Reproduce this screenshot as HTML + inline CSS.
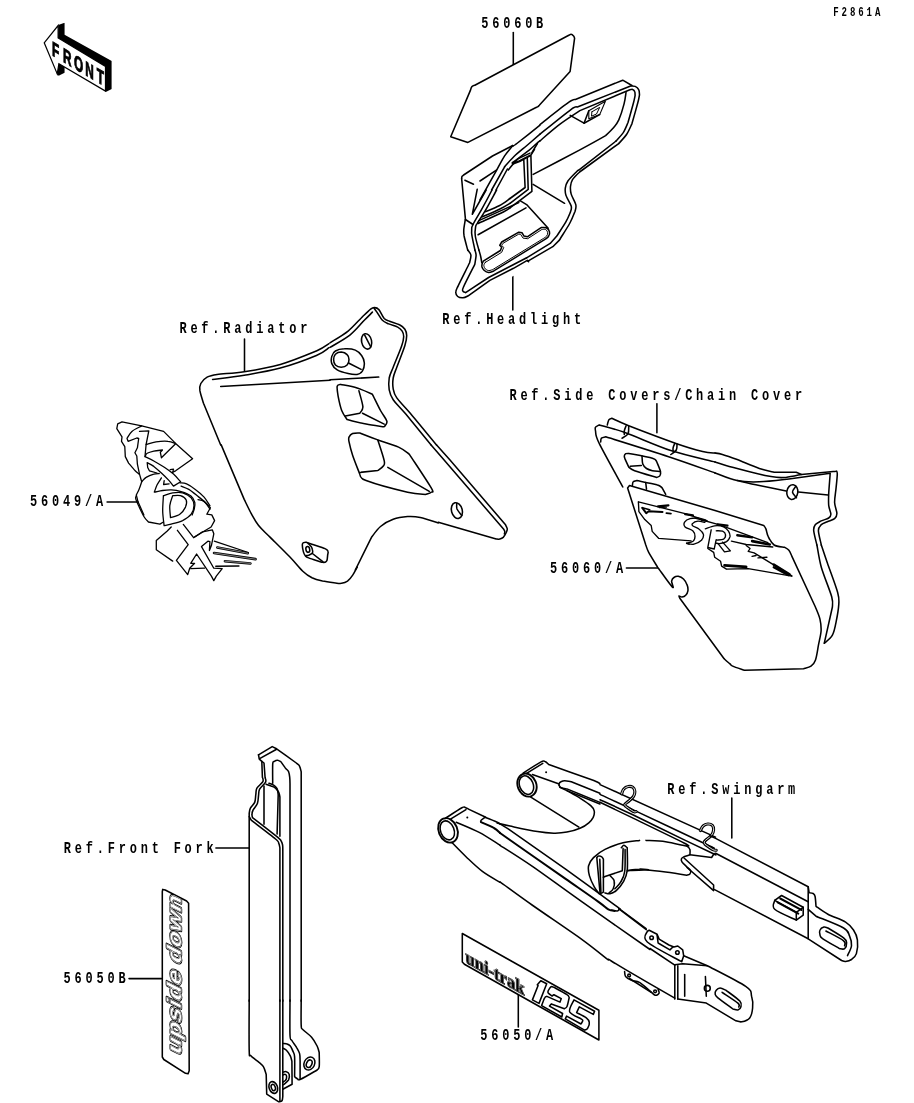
<!DOCTYPE html>
<html><head><meta charset="utf-8">
<style>
html,body{margin:0;padding:0;background:#fff;}
svg{display:block;}
.t{font-family:"Liberation Mono",monospace;font-weight:bold;fill:#000;}
.l{fill:none;stroke:#000;stroke-width:1.55;stroke-linecap:round;stroke-linejoin:round;}
.w{fill:#fff;stroke:#000;stroke-width:1.55;stroke-linecap:round;stroke-linejoin:round;}
.k{fill:#000;stroke:none;}
</style></head><body>
<svg width="914" height="1103" viewBox="0 0 914 1103">
<rect width="914" height="1103" fill="#fff"/>
<!--TEXT-->
<g class="t" id="labels" opacity="0.999">
<text transform="translate(833.2,15.8) scale(0.72,1)" font-size="12.6" letter-spacing="4.05">F2861A</text>
<text transform="translate(481.2,28.3) scale(0.72,1)" font-size="16.6" letter-spacing="5.3">56060B</text>
<text transform="translate(442.2,323.9) scale(0.72,1)" font-size="16.6" letter-spacing="5.3">Ref.Headlight</text>
<text transform="translate(179.4,333.4) scale(0.72,1)" font-size="16.6" letter-spacing="5.3">Ref.Radiator</text>
<text transform="translate(509.4,399.5) scale(0.72,1)" font-size="16.6" letter-spacing="5.3">Ref.Side Covers/Chain Cover</text>
<text transform="translate(30.0,506) scale(0.72,1)" font-size="16.6" letter-spacing="5.3">56049/A</text>
<text transform="translate(550.0,572.5) scale(0.72,1)" font-size="16.6" letter-spacing="5.3">56060/A</text>
<text transform="translate(667.3,793.8) scale(0.72,1)" font-size="16.6" letter-spacing="5.3">Ref.Swingarm</text>
<text transform="translate(63.8,852.6) scale(0.72,1)" font-size="16.6" letter-spacing="5.3">Ref.Front Fork</text>
<text transform="translate(63.5,983.3) scale(0.72,1)" font-size="16.6" letter-spacing="5.3">56050B</text>
<text transform="translate(480.2,1039.9) scale(0.72,1)" font-size="16.6" letter-spacing="5.3">56050/A</text>
</g>
<!--LEADERS-->
<g class="l" id="leaders">
<path d="M513.3,32.5V64.5"/>
<path d="M512.8,268V310"/>
<path d="M244.5,339V371"/>
<path d="M656.9,403.7V432.8"/>
<path d="M107.1,502H138.3"/>
<path d="M626.4,567.9H657.4"/>
<path d="M731.8,797.9V838"/>
<path d="M215.9,848H249.4"/>
<path d="M129,978.6H161.6"/>
<path d="M518.3,995.6V1027"/>
</g>
<g id="front" transform="translate(30,10) scale(0.10941)">
<path class="k" d="M258,138 L316,116 L316,226 L747,467 L747,722 L697,748 L686,740 L686,515 L256,258 Z"/>
<path class="k" d="M260,486 L316,520 L316,574 L262,600 L244,584 Z"/>
<path d="M130,300 L257,142 L257,256 L690,516 L690,741 L264,490 L249,584 Z" fill="#fff" stroke="#000" stroke-width="11" stroke-linejoin="miter"/>
<g transform="translate(201,414) skewY(30.5) scale(0.58,1)" style="font-family:'Liberation Sans',sans-serif;font-weight:bold" font-size="186" fill="#000" stroke="#000" stroke-width="9" opacity="0.999">
<text x="0" y="0">F</text><text x="172" y="0">R</text><text x="345" y="0">O</text><text x="525" y="0">N</text><text x="705" y="0">T</text>
</g>
</g>
<!--PLATE-->
<path class="w"  d="M475.3,85.0L568.8,35.3C569.2,35.1 570.5,34.1 571.3,34.3C572.1,34.4 573.2,35.6 573.8,36.2C574.3,36.9 574.4,37.9 574.6,38.2L570.1,71.4L539.3,105.2C539.1,105.4 538.7,106.1 538.1,106.5C537.6,106.9 536.4,107.3 536.0,107.5L467.9,142.4L450.7,136.7L470.4,90.4C470.6,89.8 471.2,87.5 472.0,86.6C472.8,85.7 474.7,85.3 475.3,85.0"/>
<path class="w" style="stroke:none" d="M624.1,80.1C625.7,80.9 630.9,83.2 633.3,84.9C635.7,86.6 637.5,88.7 638.6,90.5C639.7,92.2 639.6,94.5 639.8,95.3C638.2,101.6 632.4,125.8 630.2,133.1C627.9,140.3 627.1,137.7 626.5,138.6L577.2,172.3C576.2,173.3 572.8,176.1 571.2,178.3C569.6,180.5 568.4,183.1 567.6,185.5C566.8,187.9 566.4,190.4 566.4,192.8C566.4,195.2 566.6,197.7 567.6,200.0C568.5,202.3 570.5,204.7 571.9,206.7C573.3,208.7 575.3,210.1 576.0,212.0C576.7,213.9 576.0,217.0 576.0,218.0C574.6,221.4 570.2,233.5 567.6,238.5C565.0,243.5 561.6,246.5 560.4,248.1L531.5,266.2L527.9,268.6L488.1,289.0C484.5,291.6 470.9,301.7 466.5,304.7C462.1,307.7 463.3,307.5 461.7,307.1C460.1,306.7 457.7,304.1 456.8,302.3C456.0,300.5 456.4,297.3 456.4,296.3C458.3,291.8 465.6,275.8 467.7,269.8C469.8,263.8 469.5,264.2 468.9,260.2C468.3,256.1 464.9,250.7 464.1,245.7C463.3,240.7 463.9,234.1 464.1,230.1C464.3,226.1 465.1,223.0 465.3,221.6L461.2,178.3L464.1,174.7L517.0,143.4L560.4,106.1L570.0,100.8L624.1,80.1Z"/>
<path class="l"  d="M461.7,178.3C461.7,177.9 461.7,176.8 462.1,176.3C462.4,175.8 463.4,175.2 463.6,175.0L492.5,156.0L512.8,145.5"/>
<path class="l"  d="M461.6,178.3L465.4,218.9C465.2,220.6 464.0,226.5 463.8,229.4C463.6,232.2 463.5,232.5 464.1,236.0C464.8,239.4 467.1,247.7 467.7,250.0"/>
<path class="l"  d="M465.4,219.5L473.0,224.5"/>
<path class="l"  d="M464.9,180.2L473.5,184.2"/>
<path class="l"  d="M480.0,181.0L496.4,170.1"/>
<path class="l"  d="M540.0,125.2C536.3,128.1 522.0,139.5 517.5,143.0C513.0,146.4 513.9,145.5 513.1,146.0"/>
<path class="l"  d="M512.8,145.5C511.5,147.2 507.4,151.7 504.6,155.9C501.9,160.1 500.5,163.3 496.4,170.6C492.3,178.0 482.7,195.1 480.0,200.0"/>
<path class="l"  d="M477.2,189.3L472.3,214.3L486.1,190.0"/>
<path class="l"  d="M540.0,134.2C537.7,136.2 530.6,142.3 526.3,146.0C521.9,149.7 517.6,153.1 514.0,156.5C510.4,160.0 506.1,165.1 504.6,166.8"/>
<path class="l"  d="M504.6,166.8L491.6,190.0"/>
<path class="l"  d="M492.0,190.0C490.3,193.3 484.7,203.9 481.5,209.7C478.3,215.4 474.6,221.2 473.0,224.5C471.3,227.7 471.8,227.5 471.7,229.4C471.5,231.3 471.4,232.5 472.0,236.0C472.5,239.4 474.5,247.7 474.9,250.0"/>
<path class="l"  d="M540.0,140.8C539.5,141.2 538.6,141.8 536.8,143.4C534.9,145.0 532.1,147.8 528.9,150.4C525.7,153.0 520.9,155.9 517.5,159.1C514.1,162.4 509.8,168.2 508.3,170.0"/>
<path class="l"  d="M507.4,169.0L496.0,190.0"/>
<path class="l"  d="M496.6,190.0C494.7,193.4 488.6,204.9 485.4,210.4C482.3,215.8 479.2,220.1 477.6,222.8C475.9,225.6 476.0,224.6 475.6,226.8C475.2,228.9 474.7,232.1 475.3,236.0C475.8,239.8 478.3,247.7 478.9,250.0"/>
<path class="l"  d="M540.0,124.5C544.8,120.8 563.0,106.3 568.9,102.2C574.8,98.0 574.4,100.0 575.4,99.5L622.7,80.2L631.9,85.5"/>
<path class="l"  d="M540.0,134.2C545.1,130.1 564.6,114.2 570.9,109.6C577.1,105.1 576.3,107.5 577.4,107.0L630.6,86.0C631.4,86.1 633.8,85.8 635.2,86.4C636.5,87.0 638.0,88.3 638.7,89.7C639.5,91.1 639.4,94.1 639.5,94.9C639.2,96.3 639.1,98.0 637.8,102.8C636.5,107.6 632.9,120.3 631.9,123.8C631.0,125.6 628.8,131.1 626.7,134.3C624.5,137.6 620.1,142.0 618.8,143.5"/>
<path class="l"  d="M540.0,140.8C543.3,138.0 553.3,129.1 560.0,124.1C566.6,119.1 576.6,112.8 579.9,110.6L629.3,90.0C629.8,89.9 631.6,89.1 632.6,89.4C633.5,89.7 634.4,90.6 634.8,91.7C635.2,92.7 635.0,94.9 635.1,95.6C634.8,96.8 634.7,98.3 633.5,102.8C632.3,107.3 628.9,119.2 628.0,122.5C627.2,124.2 625.3,129.3 623.4,132.4C621.4,135.4 617.4,139.5 616.1,140.9"/>
<path class="l"  d="M626.0,92.6C625.7,94.5 625.2,99.6 624.0,104.1C622.8,108.7 620.5,116.0 618.8,119.9C617.0,123.8 615.7,125.1 613.5,127.8C611.3,130.4 607.0,134.3 605.6,135.6C601.3,138.1 591.5,143.6 579.4,150.1C567.3,156.5 540.9,170.3 533.2,174.4"/>
<path class="l"  d="M570.2,115.3L584.0,123.2L599.7,114.6"/>
<path class="l"  d="M584.0,123.2L588.8,110.7"/>
<path class="l" style="stroke-width:1.1" d="M588.8,110.7L599.7,104.4L605.4,101.2L599.7,114.6L588.8,118.8L588.8,110.7"/>
<path class="l" style="stroke-width:1" d="M591.9,111.8L599.7,107.4L596.5,114.0L591.5,116.2L591.9,111.8"/>
<path class="l"  d="M618.7,143.6L581.7,170.5C581.3,170.8 580.6,170.9 579.1,172.5C577.5,174.0 573.9,177.4 572.5,179.7C571.1,182.0 570.8,183.9 570.5,186.3C570.3,188.7 570.3,191.1 571.2,194.1C572.1,197.2 575.1,201.8 575.8,204.6C576.5,207.5 575.3,210.1 575.1,211.2C574.3,213.2 572.5,218.2 569.9,223.0C567.3,227.8 561.1,237.2 559.4,240.1L552.8,246.7L527.9,261.1"/>
<path class="l"  d="M616.1,141.0L579.1,169.8C578.6,170.2 578.3,170.0 576.5,171.8C574.6,173.7 569.8,178.3 567.9,181.0C566.1,183.7 565.6,185.8 565.3,188.2C565.0,190.6 565.0,192.5 566.0,195.4C566.9,198.4 570.4,203.2 571.2,206.0C572.0,208.7 570.7,210.9 570.5,211.9C569.8,213.5 568.2,217.7 566.0,221.7C563.7,225.8 558.3,233.7 556.8,236.1L550.2,243.4L526.6,257.8"/>
<path class="l"  d="M533.1,184.3L564.6,203.3"/>
<path class="l"  d="M520.0,200.7L526.6,204.6L548.2,228.3"/>
<path class="l"  d="M485.4,211.7C487.7,210.7 495.1,207.9 499.2,205.8C503.3,203.6 508.2,199.7 510.0,198.5"/>
<path class="l"  d="M482.2,216.9C485.1,215.6 495.3,211.3 499.9,209.0C504.5,206.8 508.3,204.3 510.0,203.3"/>
<path class="l"  d="M478.2,223.5C482.5,221.5 498.5,214.3 503.8,211.7C509.1,209.1 509.0,208.5 510.0,207.9"/>
<path class="l"  d="M510.0,198.5L525.1,187.5L523.8,160.2"/>
<path class="l"  d="M510.0,203.3L528.2,189.4L527.3,158.6"/>
<path class="l"  d="M510.0,207.9L531.9,191.4L530.9,156.0"/>
<path class="l"  d="M512.3,162.7L518.3,158.6L530.0,153.1"/>
<path class="l"  d="M531.9,152.7L537.4,143.5"/>
<path class="l" style="stroke-width:2.2" d="M512.8,163.6L519.4,161.3L530.0,155.6"/>
<path class="l"  d="M530.6,155.7L534.5,149.4"/>
<path class="l"  d="M467.7,250.0C468.2,250.9 470.5,253.0 470.9,255.1C471.2,257.3 469.8,261.7 469.5,263.0C467.7,266.7 460.7,280.5 458.4,285.3C456.1,290.2 455.9,290.0 455.8,291.9C455.6,293.8 456.5,295.5 457.7,296.5C458.9,297.5 461.2,297.9 463.0,297.8C464.7,297.7 467.4,296.2 468.2,295.8L489.9,280.4L513.5,268.3L527.3,260.4L528.6,261.7"/>
<path class="l"  d="M474.9,250.0C475.1,250.9 476.1,252.8 476.1,255.1C476.1,257.5 475.0,262.8 474.8,264.3C472.9,268.1 465.6,282.2 463.6,286.7C461.7,291.1 462.6,290.3 463.0,291.2C463.3,292.2 465.2,292.3 465.6,292.6L488.6,277.5L526.7,257.8"/>
<path class="l"  d="M478.9,250.0C479.2,251.1 480.2,254.3 480.7,256.5C481.2,258.6 481.6,261.7 481.8,262.8"/>
<path class="l"  d="M483.3,261.1L500.4,250.5L501.7,247.3L499.7,245.3L501.7,242.0L518.8,232.2L522.1,232.8L524.0,236.1L527.3,236.8L541.1,227.6C542.0,227.6 544.9,227.1 546.3,227.8C547.8,228.6 549.3,230.7 549.6,232.2C550.0,233.7 549.1,235.6 548.3,236.8C547.5,238.0 545.6,238.9 545.0,239.4L493.8,270.9C493.0,271.2 490.2,272.6 488.6,272.5C486.9,272.4 485.1,271.2 484.0,270.2C482.9,269.3 482.3,267.9 482.0,267.0C481.7,266.0 481.8,265.3 482.0,264.3C482.2,263.3 483.1,261.6 483.3,261.1Z"/>
<path class="l" style="stroke-width:1" d="M485.3,262.4L501.7,252.3L503.7,247.5L501.7,245.3L503.0,243.3L518.8,234.1L520.7,234.4L523.0,238.1L527.7,238.7L541.8,229.5C542.4,229.5 544.7,229.0 545.7,229.5C546.7,230.1 547.5,231.7 547.7,232.8C547.8,233.9 547.3,235.2 546.6,236.1C546.0,237.0 544.2,238.0 543.7,238.3L493.2,269.3C492.5,269.5 490.2,270.7 488.8,270.6C487.5,270.6 486.1,269.6 485.3,268.9C484.5,268.2 484.2,267.0 484.0,266.3C483.8,265.6 483.8,265.3 484.0,264.6C484.2,263.9 485.1,262.7 485.3,262.4Z"/>
<path class="l"  d="M478.1,234.8L526.0,207.9"/>
<path class="l"  d="M479.4,220.4L518.8,202.6"/>
<path class="l"  d="M329.0,343.7C326.9,344.9 324.5,347.5 316.4,351.0C308.2,354.4 292.3,361.0 280.3,364.5C268.2,368.0 254.7,370.1 244.2,371.7C233.6,373.4 223.2,373.5 217.1,374.4C210.9,375.3 209.9,375.6 207.1,377.1C204.4,378.6 202.0,381.2 200.8,383.5C199.6,385.7 199.5,387.4 199.9,390.7C200.4,394.0 202.9,401.2 203.5,403.3L220.7,445.0"/>
<path class="l"  d="M330.0,342.8C333.0,340.9 342.6,335.5 348.1,331.1C353.5,326.7 358.7,320.3 362.5,316.7C366.3,313.0 368.7,310.6 370.6,309.1C372.6,307.6 372.9,307.6 374.2,307.6C375.6,307.7 377.1,307.6 378.7,309.4C380.4,311.2 382.4,316.5 384.2,318.5C386.0,320.4 387.0,320.1 389.6,321.2C392.1,322.2 396.9,323.4 399.5,324.8C402.1,326.1 403.7,327.5 404.9,329.3C406.1,331.1 406.7,332.9 406.7,335.6C406.7,338.3 406.6,340.3 404.9,345.5C403.3,350.8 398.8,361.8 396.8,367.2C394.8,372.6 393.8,374.4 393.2,378.0C392.6,381.7 392.6,385.6 393.2,388.9C393.8,392.2 394.1,394.0 396.8,397.9C399.5,401.8 402.8,404.5 409.4,412.3C416.1,420.2 432.0,439.6 436.5,445.0"/>
<path class="l"  d="M329.0,347.7C326.9,349.0 324.5,352.1 316.4,355.5C308.2,358.9 292.3,364.8 280.3,368.1C268.2,371.4 255.4,373.4 244.2,375.3C232.9,377.2 217.8,378.8 212.6,379.5"/>
<path class="l"  d="M330.0,347.4C333.3,345.3 344.1,339.6 349.9,335.1C355.6,330.6 360.5,324.1 364.3,320.3C368.1,316.5 371.1,313.5 372.4,312.1"/>
<path class="l"  d="M374.2,308.5C374.7,309.1 375.6,310.2 376.9,312.1C378.3,314.1 380.4,318.3 382.4,320.3C384.3,322.2 386.1,322.7 388.7,323.9C391.2,325.0 395.4,325.9 397.7,327.1C400.0,328.3 401.2,329.5 402.2,331.1C403.2,332.7 403.7,334.1 403.7,336.5C403.6,338.9 403.6,340.4 401.8,345.5C400.1,350.7 395.3,361.8 393.2,367.2C391.1,372.6 389.9,374.3 389.2,378.0C388.6,381.8 388.6,386.2 389.2,389.8C389.9,393.4 390.4,395.6 393.2,399.7C396.0,403.8 399.5,406.6 405.8,414.1C412.1,421.7 426.9,439.9 431.1,445.0"/>
<path class="l"  d="M220.7,386.5L330.1,380.2"/>
<path class="l"  d="M330.0,379.8L378.7,377.1"/>
<ellipse class="l" cx="366.6" cy="341.4" rx="5" ry="7.8" transform="rotate(-12 366.6 341.4)"/>
<path class="l"  d="M364.7,335.1L370.8,347.0"/>
<path class="l"  d="M331.8,356.4C332.4,354.3 333.3,352.2 335.4,351.0C337.5,349.7 341.1,348.9 344.4,348.8C347.8,348.6 352.4,348.9 355.3,350.1C358.1,351.2 360.1,353.4 361.6,355.5C363.1,357.6 364.1,360.1 364.3,362.7C364.5,365.3 363.7,368.9 362.5,370.8C361.3,372.8 359.5,374.0 357.1,374.4C354.7,374.9 351.4,374.3 348.1,373.5C344.7,372.8 339.9,371.6 337.2,369.9C334.5,368.3 332.7,365.9 331.8,363.6C330.9,361.3 331.2,358.5 331.8,356.4Z"/>
<path class="l"  d="M333.6,359.6C333.6,357.8 334.2,355.5 335.4,354.2C336.7,352.9 339.2,352.0 341.2,352.0C343.1,352.1 345.9,353.3 347.1,354.6C348.4,355.8 349.0,357.9 349.0,359.6C349.0,361.4 348.4,363.8 347.1,365.0C345.9,366.3 343.1,367.2 341.2,367.2C339.2,367.2 336.7,366.3 335.4,365.0C334.2,363.8 333.6,361.4 333.6,359.6Z"/>
<path class="l"  d="M349.0,363.2L361.1,369.4"/>
<path class="l"  d="M340.8,384.4C343.5,385.0 351.8,386.3 357.1,388.0C362.3,389.6 369.9,393.2 372.4,394.3C373.8,397.0 378.1,406.0 380.5,410.5C383.0,415.0 386.3,418.7 386.9,421.4C387.5,424.1 384.6,425.9 384.2,426.8C381.1,426.3 372.3,425.3 366.1,424.1C359.9,422.9 350.3,420.3 347.1,419.6C346.2,418.1 343.2,414.4 341.7,410.5C340.2,406.6 338.9,400.2 338.1,396.1C337.4,392.0 336.8,388.1 337.2,386.2C337.7,384.2 340.2,384.7 340.8,384.4Z"/>
<path class="l"  d="M358.9,390.7C359.5,393.4 362.7,403.2 362.9,406.9C363.0,410.7 360.3,412.2 359.8,413.2L345.3,416.0"/>
<path class="l"  d="M362.5,413.2L384.2,424.1"/>
<path class="l"  d="M359.8,433.0C362.8,434.1 371.4,437.5 377.8,439.9C384.3,442.2 393.3,444.7 398.6,447.1C403.9,449.5 407.6,453.1 409.4,454.3C413.0,459.9 427.5,481.4 431.1,487.7C434.7,494.0 432.0,491.1 431.1,492.2C430.2,493.3 426.6,494.0 425.7,494.4C422.7,494.0 417.6,494.5 407.6,492.2C397.7,489.9 374.1,483.5 366.1,480.5C358.1,477.5 360.8,475.2 359.8,474.2C358.6,471.0 354.4,460.6 352.6,455.2C350.8,449.8 349.6,444.7 349.0,441.7C348.4,438.7 348.4,438.5 349.0,437.1C349.6,435.8 350.8,434.2 352.6,433.5C354.4,432.8 358.6,433.1 359.8,433.0Z"/>
<path class="l"  d="M377.8,439.9C378.9,443.3 383.3,456.3 384.2,460.6C385.1,465.0 384.3,464.4 383.3,466.0C382.2,467.7 378.7,469.8 377.8,470.5L359.8,472.4"/>
<path class="l"  d="M387.8,467.3L429.3,491.3"/>
<path class="l"  d="M436.6,445.0L450.0,460.0L505.3,524.4C505.6,525.1 507.1,527.5 507.3,528.9C507.4,530.3 506.8,531.2 506.2,532.5C505.5,533.9 504.5,536.0 503.5,537.1C502.4,538.2 501.0,538.8 499.8,539.1C498.6,539.4 496.8,538.9 496.2,538.9L438.3,522.2"/>
<path class="l"  d="M431.1,445.0L444.1,460.0L503.5,528.9C503.7,529.4 504.7,530.8 504.8,531.6C505.0,532.5 504.4,533.5 504.4,533.9"/>
<ellipse class="l" cx="456.9" cy="510.6" rx="5.4" ry="8" transform="rotate(-15 456.9 510.6)"/>
<path class="l"  d="M456.8,503.3C456.8,504.3 456.2,506.9 457.0,509.0C457.9,511.0 461.0,514.4 461.8,515.5"/>
<path class="l"  d="M438.3,522.9C435.3,522.0 425.4,518.5 420.3,517.5C415.1,516.4 412.1,516.3 407.6,516.6C403.1,516.9 397.7,517.6 393.2,519.3C388.7,520.9 384.2,523.5 380.5,526.5C376.9,529.5 373.0,535.5 371.5,537.3L355.3,570.0"/>
<path class="l" d="M221.2,444.9L244.2,499.4C245.4,501.8 249.0,509.5 251.4,513.9C253.8,518.2 255.5,521.7 258.6,525.6C261.7,529.5 264.8,531.9 270.0,537.1C275.2,542.3 284.2,551.1 289.7,556.8C295.2,562.5 299.1,567.7 302.8,571.2C306.5,574.7 308.7,576.1 312.0,577.8C315.3,579.4 318.6,580.2 322.5,581.1C326.5,581.9 332.5,582.6 335.6,583.0C338.8,583.4 339.6,583.6 341.6,583.3C343.5,583.0 345.6,582.4 347.5,581.1C349.3,579.7 351.1,577.5 352.7,575.1C354.4,572.8 356.5,568.4 357.3,567.0"/>
<path class="l"  d="M306.4,542.3C307.3,542.6 308.8,543.2 311.9,544.2C315.0,545.3 322.3,547.4 325.0,548.6C327.7,549.8 327.6,550.3 328.0,551.3C328.5,552.3 327.8,554.1 327.7,554.6C327.6,555.6 327.4,559.4 326.9,560.6C326.5,561.9 325.9,562.0 325.0,562.3C324.1,562.5 322.3,562.3 321.7,562.3C319.5,561.5 311.3,559.0 308.6,557.9C305.9,556.8 306.2,556.7 305.3,555.7C304.5,554.7 303.9,553.7 303.4,551.9C302.9,550.1 302.3,546.3 302.3,544.8C302.4,543.2 303.0,543.0 303.7,542.6C304.4,542.2 306.0,542.4 306.4,542.3Z"/>
<path class="l"  d="M308.1,543.4C308.6,543.9 310.3,545.4 311.1,546.4C311.8,547.5 312.2,548.6 312.4,549.7C312.7,550.8 313.1,552.1 312.4,553.0C311.8,553.9 309.7,554.7 308.6,555.2C307.5,555.6 306.3,555.6 305.9,555.7"/>
<path class="l"  d="M312.4,553.5L322.8,561.7"/>
<ellipse class="l" cx="307.8" cy="549.4" rx="1.9" ry="3" transform="rotate(-10 307.8 549.4)"/>
<path class="l" style="stroke-width:1.3" d="M139.0,474.1C138.4,473.5 136.9,472.6 135.2,470.8C133.4,469.0 129.7,464.4 128.6,463.1L125.3,456.6L124.8,446.7L121.5,441.3L122.0,436.9L116.8,428.7L117.7,423.8L122.0,421.8L141.7,425.9L163.6,431.4L175.6,443.4L192.6,458.8L175.6,470.8L172.4,472.4"/>
<path class="l" style="stroke-width:1.3" d="M141.7,425.9C140.1,426.9 134.3,429.3 131.9,431.4C129.4,433.5 127.8,437.3 127.0,438.5L128.1,441.3L136.8,438.0L138.7,438.5L137.4,447.8L134.9,452.7L136.8,456.0L137.4,464.2L139.5,474.1L141.7,481.7"/>
<path class="l" style="stroke-width:1.3" d="M139.5,431.4L148.8,430.9L146.1,444.5C147.7,444.1 152.3,442.4 156.0,441.8C159.6,441.3 164.7,440.9 168.0,441.3C171.3,441.6 174.4,443.3 175.6,443.7L161.4,457.7L160.3,452.2L162.5,450.0C161.1,450.2 156.3,450.6 153.8,451.1C151.2,451.7 148.7,452.4 147.2,453.3C145.7,454.2 145.4,456.0 145.0,456.6C146.5,457.3 150.5,459.1 153.8,461.0C157.0,462.8 161.4,465.3 164.7,467.5C168.0,469.7 170.8,471.7 173.5,474.1C176.1,476.5 179.4,480.5 180.6,481.7L173.5,486.1C172.7,485.2 171.1,482.8 169.1,480.6C167.1,478.5 164.0,475.4 161.4,473.0C158.9,470.6 156.1,468.2 153.8,466.4C151.4,464.7 148.3,463.2 147.2,462.6L147.7,467.5L149.4,470.8L157.0,473.0"/>
<path class="l" style="stroke-width:1.3" d="M146.1,444.5L145.0,456.6"/>
<path class="l" style="stroke-width:1.3" d="M170.2,469.7L173.5,469.2L172.9,471.9"/>
<path class="l" style="stroke-width:1.3" d="M141.7,481.7C142.5,481.0 144.1,478.6 146.1,477.4C148.1,476.1 151.6,474.7 153.8,474.1C156.0,473.4 158.3,473.6 159.2,473.5"/>
<path class="l" style="stroke-width:1.3" d="M141.7,481.7C141.3,483.0 139.9,487.2 139.0,489.4C138.1,491.6 136.7,494.0 136.3,494.9L137.9,501.4L143.9,515.0"/>
<path class="l" style="stroke-width:1.3" d="M161.4,477.9C160.7,479.1 158.2,482.7 157.0,485.0C155.9,487.4 154.8,490.9 154.3,492.1C155.7,491.9 159.7,490.9 162.5,490.5C165.3,490.1 168.2,489.8 171.3,489.9C174.4,490.1 177.8,490.6 181.1,491.6C184.4,492.6 188.7,494.1 191.0,496.0C193.2,497.8 194.2,500.3 194.8,502.5C195.3,504.7 194.7,507.0 194.2,509.1C193.8,511.2 192.4,514.0 192.1,515.0"/>
<path class="l" style="stroke-width:1.3" d="M164.2,480.6L163.6,484.5L169.1,483.9"/>
<path class="l" style="stroke-width:1.3" d="M181.1,486.1C182.4,486.7 186.0,487.8 188.8,489.4C191.5,491.0 194.8,493.8 197.5,496.0C200.3,498.2 203.1,500.3 205.2,502.5C207.3,504.7 209.2,508.0 210.0,509.1"/>
<path class="l" style="stroke-width:1.3" d="M180.0,482.8C181.1,483.0 184.0,482.8 186.6,483.9C189.1,485.0 192.4,487.2 195.3,489.4C198.3,491.6 201.6,494.3 204.1,497.1C206.5,499.8 209.0,504.4 210.0,505.8"/>
<path class="l" style="stroke-width:1.3" d="M136.4,495.7C136.3,496.2 135.3,496.9 135.7,498.5C136.0,500.2 137.1,502.6 138.5,505.6C140.0,508.7 142.6,514.3 144.2,517.0C145.9,519.8 147.8,521.2 148.5,522.0L159.9,524.1L163.4,522.0"/>
<path class="l" style="stroke-width:1.3" d="M163.4,495.7C165.0,495.2 169.5,493.3 172.7,492.8C175.9,492.4 179.5,492.0 182.6,492.8C185.7,493.7 189.3,495.7 191.2,497.8C193.1,500.0 194.0,502.9 194.0,505.6C194.0,508.4 193.1,511.7 191.2,514.2C189.3,516.7 185.9,518.9 182.6,520.6C179.3,522.2 174.3,523.3 171.2,524.1C168.2,525.0 165.3,525.3 164.1,525.6C163.9,523.2 162.8,516.3 162.7,511.3C162.6,506.4 163.3,498.3 163.4,495.7"/>
<path class="l" style="stroke-width:1.3" d="M172.7,495.7C174.0,495.7 178.2,495.0 180.5,495.7C182.7,496.4 185.4,498.1 186.2,500.0C187.0,501.9 186.5,504.7 185.5,507.1C184.4,509.4 182.3,512.4 179.8,514.2C177.3,516.0 172.1,517.1 170.5,517.7C170.4,515.7 169.5,509.3 169.8,505.6C170.2,502.0 172.2,497.3 172.7,495.7"/>
<path class="l" style="stroke-width:1.3" d="M198.0,499.7C199.0,500.0 201.9,500.0 204.0,501.4C206.0,502.7 209.3,506.7 210.4,507.8L206.8,514.2L211.8,514.9L214.6,520.6L211.1,527.0L204.0,531.2L194.7,536.9"/>
<path class="l" style="stroke-width:1.3" d="M183.3,524.4L193.6,537.7L202.5,531.8L212.3,529.8L213.8,533.8L211.4,545.6L209.4,550.5L209.9,541.7L207.9,541.2L201.5,546.6L213.8,568.2L222.2,568.7L216.3,576.1L213.8,580.6L211.4,576.1L196.6,554.0L190.7,563.3L194.6,563.3L189.7,568.2L187.7,574.6L176.4,560.4L188.2,544.6L177.4,530.3"/>
<path class="l" style="stroke-width:1.3" d="M171.2,527.0L167.0,531.2L156.3,540.5L156.3,549.7L172.7,561.1"/>
<path class="l" style="stroke-width:1.3" d="M190.7,568.7L204.5,568.2"/>
<path class="l" style="stroke-width:1.3" d="M214.3,541.2L248.3,552.5"/>
<path class="l" style="stroke-width:2.5" d="M217.3,547.4L247.8,553.3"/>
<path class="l" style="stroke:#fff;stroke-width:0.5" d="M217.3,547.4L247.8,553.3"/>
<path class="l" style="stroke-width:2.7" d="M214.1,553.0L255.5,559.2"/>
<path class="l" style="stroke:#fff;stroke-width:0.5" d="M214.1,553.0L255.5,559.2"/>
<path class="l" style="stroke-width:2.5" d="M224.9,561.2L250.5,563.4"/>
<path class="l" style="stroke:#fff;stroke-width:0.5" d="M224.9,561.2L250.5,563.4"/>
<path class="l" style="stroke-width:1.5" d="M215.8,566.3L238.9,565.9"/>
<path class="l"  d="M607.3,424.9C607.6,424.1 608.1,420.9 608.8,419.8C609.5,418.7 611.3,418.5 611.8,418.3C614.6,419.5 618.0,421.5 628.7,425.7C639.5,429.9 663.7,439.1 676.0,443.4C688.3,447.7 696.1,449.9 702.6,451.5C709.1,453.1 712.9,452.8 715.0,453.0"/>
<path class="l"  d="M715.0,453.0C716.2,453.2 718.7,453.4 722.4,454.5C726.1,455.6 731.0,457.3 737.2,459.6C743.3,462.0 753.2,466.4 759.3,468.5C765.5,470.6 771.6,471.6 774.1,472.2L796.2,472.2L801.4,474.4"/>
<path class="l"  d="M622.8,487.0C618.9,479.7 603.8,452.8 599.2,443.4C594.6,434.0 596.1,433.6 595.5,430.8C594.9,428.1 594.9,428.1 595.5,427.2C596.1,426.2 598.6,425.3 599.2,424.9C603.4,426.2 612.2,428.0 624.3,432.3C636.4,436.6 656.5,445.9 671.6,450.8C686.7,455.7 707.8,460.0 715.0,461.9"/>
<path class="l"  d="M715.0,461.9C718.7,463.0 727.8,466.1 737.2,468.5C746.5,471.0 763.0,475.2 771.1,476.6C779.3,478.1 780.9,477.7 785.9,477.4C790.9,477.0 798.8,474.9 801.4,474.4C806.7,473.9 827.4,472.0 833.2,471.5C838.9,470.9 835.6,471.2 836.1,471.2C836.3,471.6 837.3,470.9 837.3,473.7C837.3,476.4 836.6,482.9 836.1,487.7C835.7,492.5 834.5,498.2 834.6,502.5C834.8,506.8 836.9,510.9 836.9,513.6C836.9,516.3 836.2,517.4 834.6,518.7C833.0,520.1 829.5,520.7 827.3,521.7C825.0,522.7 822.8,523.2 821.3,524.6C819.9,526.1 818.4,527.1 818.4,530.5C818.4,533.9 820.9,542.6 821.3,545.0"/>
<path class="l"  d="M600.7,441.9C600.8,441.3 600.6,439.1 601.4,438.2C602.3,437.4 605.1,437.0 605.8,436.8C616.3,440.1 650.4,450.7 668.6,456.7C686.8,462.7 707.3,470.2 715.0,472.9"/>
<path class="l"  d="M715.0,472.9C718.7,474.2 729.8,479.1 737.2,480.6C744.5,482.1 750.7,482.1 759.3,481.8C767.9,481.5 777.0,480.3 788.9,478.9C800.7,477.4 823.3,474.2 830.2,473.2C830.0,476.6 829.0,488.3 828.7,493.6C828.5,499.0 828.4,502.0 828.7,505.4C829.1,508.9 830.9,512.2 830.9,514.3C830.9,516.4 830.3,516.9 828.7,518.0C827.1,519.1 823.6,519.8 821.3,520.9C819.1,522.1 816.7,523.0 815.4,524.6C814.2,526.2 813.4,527.1 813.7,530.5C813.9,533.9 816.4,542.6 816.9,545.0"/>
<path class="l"  d="M626.1,425.7C625.8,426.5 624.6,429.4 624.3,430.8C624.0,432.3 624.3,433.9 624.3,434.5"/>
<path class="l"  d="M628.7,426.4C628.6,427.6 629.1,431.8 628.0,433.8C626.9,435.8 623.1,437.5 622.1,438.2"/>
<path class="l"  d="M674.8,443.4C674.5,444.1 673.3,446.6 673.1,447.8C672.8,449.1 673.1,450.5 673.1,451.1"/>
<path class="l"  d="M677.0,444.1C676.9,445.1 677.3,448.3 676.3,450.0C675.3,451.8 671.7,453.7 670.8,454.5"/>
<path class="l"  d="M737.2,480.6C740.8,481.4 751.1,483.8 759.3,485.5C767.5,487.2 781.7,490.1 786.2,491.0"/>
<path class="l"  d="M798.5,492.1L828.0,495.1"/>
<ellipse class="l" cx="792.3" cy="492.1" rx="5.5" ry="7.4" transform="rotate(8 792.3 492.1)"/>
<path class="l"  d="M795.9,486.2C795.4,487.2 792.4,490.2 792.5,492.1C792.6,494.1 795.9,496.8 796.5,497.8"/>
<path class="l"  d="M628.7,453.4C632.7,454.2 647.7,456.8 652.4,458.2C657.1,459.6 656.1,461.2 656.8,461.9C657.4,463.5 660.0,469.1 660.5,471.5C661.0,473.8 660.4,474.9 659.8,475.9C659.1,476.9 657.3,477.1 656.8,477.4C653.1,476.3 639.3,472.5 634.6,470.7C630.0,469.0 629.7,467.7 628.7,467.0C628.1,465.7 625.8,460.8 625.0,458.9C624.3,457.1 624.2,456.8 624.3,456.0C624.4,455.1 625.0,454.2 625.8,453.7C626.5,453.3 628.2,453.5 628.7,453.4Z"/>
<path class="l"  d="M642.0,456.0C642.2,457.3 642.0,462.0 642.8,464.1C643.5,466.2 644.9,467.4 646.5,468.5C648.1,469.6 650.2,470.2 652.4,470.7C654.6,471.2 658.5,471.3 659.8,471.5"/>
<path class="l"  d="M630.2,466.3L641.3,465.6"/>
<path class="l"  d="M632.4,485.5C632.6,484.9 632.4,482.6 633.2,481.8C633.9,481.0 636.2,480.8 636.9,480.6C640.2,481.3 652.6,483.6 656.8,484.8C661.0,485.9 661.1,487.2 662.0,487.7L665.7,494.4"/>
<path class="l"  d="M645.7,482.5L646.5,489.2"/>
<path class="l"  d="M821.3,545.0C822.3,548.0 824.5,554.8 827.3,562.7C830.0,570.6 835.7,585.4 837.6,592.3C839.5,599.2 839.0,599.2 838.8,604.1C838.5,609.0 837.2,616.6 836.1,621.8C835.1,627.0 834.4,631.5 832.4,635.1C830.5,638.7 825.7,641.9 824.3,643.2"/>
<path class="l"  d="M816.9,545.0C817.7,548.7 818.9,558.5 821.3,567.2C823.8,575.8 829.8,590.0 831.7,596.7C833.5,603.3 832.3,605.3 832.4,607.0L824.3,643.2"/>
<path class="w" d="M627.6,488.0L629.5,485.6L715.0,510.6L763.7,525.4C764.1,526.0 765.2,527.2 766.0,529.1C766.7,530.9 766.8,533.8 768.2,536.5C769.5,539.1 771.4,543.2 774.1,545.0C776.8,546.8 782.7,546.8 784.4,547.2C785.2,547.7 787.6,548.7 788.9,550.2C790.1,551.6 791.3,555.1 791.8,556.1L815.4,607.0C816.2,609.0 818.9,614.9 819.9,618.9C820.8,622.8 821.3,626.2 821.1,630.7C820.8,635.1 819.3,640.5 818.4,645.4C817.5,650.4 816.7,656.8 815.4,660.2C814.2,663.7 813.0,664.7 811.0,666.1C809.0,667.5 804.9,668.3 803.6,668.8L744.5,670.3C742.6,669.6 735.2,667.2 732.7,666.1C730.3,665.1 731.4,665.1 730.0,663.9C728.5,662.7 725.1,659.6 724.1,658.7L679.8,598.2C679.6,597.8 678.7,596.2 679.0,596.0C679.4,595.8 680.9,597.1 682.0,597.0C683.1,596.9 684.7,596.3 685.7,595.2C686.7,594.2 687.6,592.5 687.9,590.8C688.1,589.1 687.9,586.8 687.1,584.9C686.4,582.9 684.9,580.4 683.5,579.0C682.0,577.5 679.9,576.6 678.3,576.3C676.7,576.1 675.0,576.7 673.9,577.5C672.7,578.3 671.9,579.6 671.6,581.2C671.4,582.8 674.7,589.4 672.4,587.1C670.0,584.8 660.1,570.5 657.6,567.2C656.1,564.7 650.7,556.1 648.7,552.4C646.8,548.7 646.3,546.2 645.8,545.0Z"/>
<path class="l" style="stroke-width:1.35" d="M638.4,501.9L638.9,511.7L644.8,519.6L651.2,525.5L652.2,531.4L658.6,538.3L691.1,540.8"/>
<path class="l" style="stroke-width:1.35" d="M638.4,501.9L685.1,513.7L698.9,518.1"/>
<path class="l" style="stroke-width:2" d="M642.3,507.8L646.2,513.2L648.7,511.2L662.5,511.9"/>
<path class="l" style="stroke-width:1.6" d="M642.3,507.8L649.7,509.8"/>
<path class="l" style="stroke-width:1.8" d="M666.4,513.2L670.9,513.7"/>
<path class="l" style="stroke-width:2.2" d="M658.1,506.3L668.4,505.3"/>
<path class="l" style="stroke-width:1.2" d="M659.5,507.6L666.4,507.2"/>
<path class="l" style="stroke-width:2.2" d="M685.1,514.2L693.0,515.4"/>
<path class="l" style="stroke-width:2" d="M701.9,520.1L706.8,520.9"/>
<path class="l" style="stroke-width:1.35" d="M705.8,520.1C704.7,519.8 701.6,518.4 698.9,518.1C696.3,517.9 692.4,518.0 690.1,518.6C687.7,519.3 685.5,520.7 684.6,522.1C683.8,523.5 683.7,525.5 685.1,527.0C686.5,528.5 691.4,529.4 693.0,530.9C694.7,532.5 695.0,534.6 695.0,536.4C695.0,538.1 694.4,540.1 693.0,541.3C691.6,542.4 687.7,542.9 686.6,543.2"/>
<path class="l" style="stroke-width:1.35" d="M704.8,522.4C703.7,522.2 700.0,520.9 697.9,521.1C695.9,521.3 693.3,522.7 692.5,523.6C691.7,524.4 692.0,525.1 693.0,526.0C694.1,526.9 697.2,527.6 698.9,529.0C700.7,530.4 702.9,532.5 703.4,534.4C703.8,536.3 702.9,538.7 701.4,540.3C699.8,541.9 696.4,543.7 694.0,544.2C691.6,544.8 688.3,543.8 687.1,543.7"/>
<path class="l" style="stroke-width:1.35" d="M686.6,543.2L689.1,544.2"/>
<path class="l" style="stroke-width:1.35" d="M711.2,529.8L707.8,547.5L714.2,549.0L716.2,539.6"/>
<path class="l" style="stroke-width:1.35" d="M705.3,528.8C706.9,528.3 711.7,526.2 714.7,525.8C717.7,525.5 721.3,525.9 723.6,526.8C725.9,527.7 727.4,529.6 728.5,531.2C729.5,532.9 730.3,534.9 730.0,536.7C729.6,538.4 728.2,540.4 726.5,541.6C724.8,542.7 721.4,543.3 719.6,543.6C717.8,543.8 716.3,543.1 715.7,543.1"/>
<path class="l" style="stroke-width:1.35" d="M716.2,530.8C717.2,530.8 721.0,530.6 722.6,531.2C724.1,531.9 725.4,533.4 725.5,534.7C725.7,536.0 725.0,538.2 723.6,539.1C722.1,540.0 717.8,539.9 716.7,540.1"/>
<path class="l" style="stroke-width:1.35" d="M718.1,543.6L724.5,551.9L730.4,550.9L722.6,542.1"/>
<path class="l" style="stroke-width:1.35" d="M695.0,518.0L719.6,524.8L750.1,536.2L767.9,542.6"/>
<path class="l" style="stroke-width:2.2" d="M717.6,524.4L727.5,525.6"/>
<path class="l" style="stroke-width:2.4" d="M737.3,535.2L752.1,537.4"/>
<path class="l" style="stroke-width:2.6" d="M752.1,541.1L769.8,544.5"/>
<path class="l" style="stroke-width:1.35" d="M731.4,541.1L746.2,544.5L772.8,547.0"/>
<path class="l" style="stroke-width:1.35" d="M746.2,545.5L750.1,548.5L748.2,551.4L754.1,552.9L791.8,575.9"/>
<path class="l" style="stroke-width:1.35" d="M707.8,548.5L713.7,552.4L714.7,557.3L720.6,561.3L721.6,566.2L726.5,569.2L748.2,568.7L791.8,576.2"/>
<path class="l" style="stroke-width:2.6" d="M724.5,565.4L746.2,566.9"/>
<path class="l" style="stroke-width:1.4" d="M752.1,556.4L756.1,555.5"/>
<path class="l" style="stroke-width:1.4" d="M758.0,557.9L766.9,557.3"/>
<path class="l" style="stroke-width:2.6" d="M773.8,564.7L789.5,574.3"/>
<path class="l" style="stroke-width:2.4" d="M773.8,567.2L788.5,575.1"/>
<path class="w" style="stroke:none" d="M258.5,754.8L272.2,746.6L276.6,748.8C279.9,751.1 292.4,760.1 296.3,763.0C300.1,765.9 298.7,764.8 299.6,766.3C300.4,767.7 300.9,770.8 301.2,771.7L301.2,1112.0L249.2,1112.0C249.2,1062.2 249.0,863.9 249.2,813.3C249.4,762.7 249.4,810.2 250.3,808.4C251.2,806.6 253.8,804.6 254.7,802.4C255.6,800.1 255.4,797.1 255.8,794.7C256.2,792.3 255.7,790.3 256.9,788.1C258.1,786.0 261.9,782.7 262.9,781.6L262.4,777.2L261.8,761.3C261.4,761.0 259.8,760.2 259.3,759.1C258.7,758.1 258.7,755.5 258.5,754.8Z"/>
<path class="l"  d="M258.5,754.8L272.2,746.6L276.6,748.8C279.9,751.1 292.4,760.1 296.3,763.0C300.1,765.9 298.7,764.8 299.6,766.3C300.4,767.7 300.9,770.8 301.2,771.7L301.2,1001.3"/>
<path class="l"  d="M259.6,758.6L276.6,749.3"/>
<path class="l"  d="M258.5,754.8L259.3,759.1L261.8,761.3L262.4,777.2C262.4,777.9 263.8,779.8 262.9,781.6C262.0,783.4 258.1,786.0 256.9,788.1C255.7,790.3 256.2,792.3 255.8,794.7C255.4,797.1 255.6,800.1 254.7,802.4C253.8,804.6 251.2,806.6 250.3,808.4C249.4,810.2 249.4,812.5 249.2,813.3L249.2,1001.3"/>
<path class="l"  d="M261.8,761.3L264.0,763.0L265.1,777.7C265.2,778.5 266.5,780.2 265.6,782.1C264.7,784.0 260.8,787.0 259.6,789.2C258.4,791.5 258.9,793.4 258.5,795.8C258.2,798.2 258.3,801.1 257.4,803.5C256.5,805.8 254.0,808.2 253.1,810.0C252.1,811.8 252.0,813.1 252.0,814.4C251.9,815.7 252.4,817.1 252.5,817.7C256.5,820.8 271.8,832.5 276.6,836.3C281.3,840.1 279.9,839.2 281.0,840.7C282.0,842.1 282.3,843.4 282.6,845.0C282.9,846.7 282.8,849.6 282.8,850.5L282.8,1001.3"/>
<path class="l"  d="M249.2,816.6L251.4,820.4C255.4,823.5 270.9,835.2 275.5,839.0C280.0,842.8 278.0,841.9 278.8,843.4C279.5,844.9 279.7,847.0 279.9,847.8L279.9,1001.3"/>
<path class="l"  d="M272.7,783.2C272.7,780.0 272.5,767.7 272.7,764.1C273.0,760.4 273.6,762.0 274.4,761.3C275.2,760.7 276.6,760.1 277.7,760.2C278.8,760.3 280.4,761.6 281.0,761.9C281.7,762.9 284.1,766.3 285.3,767.9C286.6,769.5 287.9,770.2 288.6,771.7C289.3,773.3 289.5,775.2 289.7,777.2C289.9,779.2 290.0,782.7 290.0,783.8L290.0,1001.3"/>
<path class="l"  d="M264.0,786.0L264.0,824.2"/>
<path class="l"  d="M266.2,784.3C267.0,784.6 269.6,785.3 271.1,786.0C272.7,786.6 274.2,787.0 275.5,788.1C276.8,789.2 278.0,791.1 278.8,792.5C279.5,794.0 279.7,796.2 279.9,796.9L279.9,836.3"/>
<path class="l"  d="M268.9,783.2C269.6,783.5 271.9,783.9 273.3,784.9C274.7,785.8 276.3,787.0 277.1,788.7C277.9,790.3 278.0,793.7 278.2,794.7L277.1,834.1"/>
<path class="l"  d="M249.2,1000.0C249.2,1008.4 248.9,1041.0 249.2,1050.3C249.5,1059.6 249.2,1053.8 250.9,1055.8C252.5,1057.8 257.0,1060.5 259.1,1062.4C261.2,1064.2 262.3,1064.7 263.4,1066.7C264.6,1068.7 265.7,1073.1 266.2,1074.4L266.7,1094.1L278.8,1101.8C279.3,1101.6 281.4,1101.6 282.0,1100.7C282.7,1099.7 282.7,1097.0 282.8,1096.3L282.8,1000.0"/>
<path class="l"  d="M279.9,1000.0L279.9,1100.9"/>
<path class="l"  d="M301.2,1000.0C301.2,1004.2 300.9,1020.2 301.2,1025.2C301.5,1030.1 301.1,1027.5 302.8,1029.5C304.6,1031.5 309.2,1034.5 311.6,1037.2C314.0,1039.9 315.8,1043.4 317.1,1046.0C318.3,1048.5 318.9,1051.4 319.2,1052.5C319.2,1054.9 319.6,1063.8 319.2,1066.7C318.9,1069.7 317.4,1069.5 317.1,1070.0C314.3,1071.6 303.9,1077.9 300.6,1079.3C297.4,1080.8 298.4,1079.2 297.4,1078.8C296.4,1078.3 295.1,1077.0 294.6,1076.6C294.6,1073.3 294.9,1061.1 294.6,1056.9C294.4,1052.7 293.7,1053.2 293.0,1051.4C292.3,1049.6 291.3,1047.2 290.3,1046.0C289.2,1044.7 287.7,1044.2 286.4,1043.8C285.2,1043.4 283.4,1043.6 282.8,1043.5"/>
<path class="l"  d="M290.0,1000.0C290.0,1005.8 289.7,1028.3 290.0,1035.0C290.3,1041.8 290.9,1038.5 291.9,1040.5C292.9,1042.5 295.0,1044.9 296.3,1047.0C297.5,1049.2 298.9,1051.2 299.6,1053.6C300.2,1056.0 300.0,1060.0 300.1,1061.3L300.1,1078.8"/>
<path class="l"  d="M282.8,1048.1C283.4,1048.5 285.2,1049.1 286.4,1050.3C287.7,1051.6 289.3,1054.0 290.3,1055.8C291.2,1057.6 291.6,1060.4 291.9,1061.3L292.1,1084.2L282.8,1089.2"/>
<ellipse class="l"  cx="309.4" cy="1063.5" rx="5.25" ry="6.78" transform="rotate(25 309.4 1063.5)"/>
<ellipse class="l"  cx="309.2" cy="1063.7" rx="2.63" ry="3.94" transform="rotate(25 309.2 1063.7)"/>
<ellipse class="l"  cx="273.3" cy="1087.5" rx="4.16" ry="6.02" transform="rotate(-20 273.3 1087.5)"/>
<ellipse class="l"  cx="273.3" cy="1087.5" rx="1.97" ry="3.28" transform="rotate(-20 273.3 1087.5)"/>
<path class="l"  d="M282.8,1072.2C283.4,1072.1 285.4,1071.3 286.4,1071.7C287.5,1072.0 288.8,1073.0 289.2,1074.4C289.5,1075.8 289.4,1078.2 288.6,1079.9C287.8,1081.5 285.2,1083.4 284.2,1084.2C283.3,1085.1 283.0,1084.7 282.8,1084.8"/>
<path class="l"  d="M282.8,1074.9C283.2,1074.9 284.7,1074.1 285.3,1074.4C286.0,1074.7 286.6,1075.6 286.6,1076.6C286.7,1077.6 286.2,1079.5 285.5,1080.4C284.9,1081.3 283.3,1081.8 282.8,1082.1"/>
<path class="w"  d="M162.3,891.6 L162.7,889.4 L165.2,890.0 L186.6,901.0 L188.6,903.2 L189.2,1070.8 L188.1,1073.7 L185.5,1073.3 L163.8,1059.5 L162.3,1057.0Z"/>
<g transform="translate(180.6,1056) rotate(-90) skewX(-27)" style="font-family:'Liberation Sans',sans-serif;font-weight:bold" font-size="19.5" opacity="0.999"><text x="0" y="0" textLength="158" lengthAdjust="spacingAndGlyphs" fill="#fff" stroke="#000" stroke-width="2.4" stroke-linejoin="round">upside down</text><text x="0" y="0" textLength="158" lengthAdjust="spacingAndGlyphs" fill="#fff" stroke="#fff" stroke-width="1.0" stroke-linejoin="round">upside down</text><text x="0" y="0" textLength="158" lengthAdjust="spacingAndGlyphs" fill="none" stroke="#000" stroke-width="0.35">upside down</text></g>
<!--FORKDECAL-->
<ellipse class="l" style="stroke-width:1.9" cx="527.0" cy="785.1" rx="9.30" ry="11.82" transform="rotate(-22 527.0 785.1)"/>
<ellipse class="l"  cx="526.4" cy="785.1" rx="6.78" ry="9.63" transform="rotate(-22 526.4 785.1)"/>
<path class="l"  d="M523.1,773.1C526.0,771.2 537.0,764.0 540.6,762.1C544.3,760.2 543.6,761.1 545.0,761.6C546.4,762.0 548.2,764.1 548.8,764.6C555.9,767.1 582.4,776.5 591.0,779.6C599.5,782.8 598.4,782.8 599.9,783.4"/>
<path class="l"  d="M526.6,773.4L542.8,763.3"/>
<circle cx="546.1" cy="772.2" r="1" class="k"/>
<path class="l"  d="M532.4,774.5L559.2,784.0"/>
<path class="l"  d="M559.2,785.6C559.2,785.3 558.7,784.3 559.0,783.7C559.3,783.0 559.9,782.3 560.9,781.8C561.8,781.3 563.0,780.7 564.7,780.7C566.4,780.7 570.2,781.6 571.3,781.8L599.9,793.2"/>
<path class="l"  d="M559.2,785.6C559.6,786.0 560.1,787.3 561.4,787.8C562.7,788.4 566.0,788.7 566.9,788.9L599.9,802.4"/>
<path class="l"  d="M559.8,787.3L566.9,790.6L599.9,804.0"/>
<path class="l"  d="M566.9,790.6C569.3,791.9 577.1,796.2 581.1,798.8C585.1,801.3 588.8,803.9 591.0,805.9C593.2,807.9 593.9,808.9 594.2,810.8C594.6,812.7 594.1,815.4 593.2,817.4C592.2,819.4 591.0,821.0 588.8,822.8C586.6,824.7 583.7,826.8 580.0,828.3C576.4,829.9 571.3,831.3 566.9,832.1C562.5,833.0 558.7,833.3 553.8,833.2C548.8,833.1 544.6,832.8 537.4,831.6C530.1,830.4 516.7,827.5 510.0,826.1C503.3,824.7 499.3,823.6 497.2,823.1"/>
<path class="l"  d="M530.8,797.1L578.9,827.2"/>
<path class="l"  d="M600.0,784.6L715.5,837.1"/>
<path class="l"  d="M600.0,794.4C605.9,797.2 617.9,802.6 635.4,810.9C653.0,819.1 691.9,837.4 705.0,843.7C718.2,849.9 712.7,847.5 714.2,848.3"/>
<path class="l"  d="M600.0,799.7C605.5,802.2 618.6,808.0 632.8,814.8C647.0,821.6 672.0,833.9 685.3,840.4C698.7,846.8 707.9,851.1 712.9,853.5C717.9,855.9 715.1,854.6 715.5,854.8"/>
<path class="l"  d="M600.0,802.3C605.3,804.8 617.5,810.6 631.5,817.4C645.5,824.2 674.8,838.3 684.0,843.0C693.2,847.7 686.2,845.2 686.7,845.6"/>
<path class="l" style="stroke-width:3.1" d="M621.7,793.8C622.0,793.0 622.5,790.4 623.6,789.2C624.7,788.0 626.7,786.9 628.2,786.6C629.8,786.2 631.7,786.5 632.8,787.2C633.9,788.0 634.7,789.6 634.8,791.2C634.9,792.7 634.5,794.8 633.5,796.4C632.5,798.1 630.3,799.7 628.9,801.0C627.5,802.3 625.5,803.4 624.9,804.3C624.4,805.2 625.5,805.9 625.6,806.3C626.9,807.1 631.7,810.6 633.5,811.5C635.2,812.4 635.7,811.5 636.1,811.5"/>
<path class="l" style="stroke:#fff;stroke-width:0.9" d="M621.7,793.8C622.0,793.0 622.5,790.4 623.6,789.2C624.7,788.0 626.7,786.9 628.2,786.6C629.8,786.2 631.7,786.5 632.8,787.2C633.9,788.0 634.7,789.6 634.8,791.2C634.9,792.7 634.5,794.8 633.5,796.4C632.5,798.1 630.3,799.7 628.9,801.0C627.5,802.3 625.5,803.4 624.9,804.3C624.4,805.2 625.5,805.9 625.6,806.3C626.9,807.1 631.7,810.6 633.5,811.5C635.2,812.4 635.7,811.5 636.1,811.5"/>
<path class="l" style="stroke-width:3.1" d="M700.4,830.5C700.9,829.8 701.9,827.0 703.1,826.0C704.3,824.9 706.1,824.1 707.7,824.0C709.2,823.9 711.3,824.3 712.3,825.3C713.2,826.3 713.7,828.2 713.6,829.9C713.5,831.5 712.7,833.6 711.6,835.1C710.5,836.7 708.2,838.0 707.0,839.1C705.8,840.2 704.7,840.8 704.4,841.7C704.0,842.6 704.9,843.9 705.0,844.3C706.3,845.2 711.1,848.6 712.9,849.6C714.8,850.6 715.6,850.1 716.2,850.2"/>
<path class="l" style="stroke:#fff;stroke-width:0.9" d="M700.4,830.5C700.9,829.8 701.9,827.0 703.1,826.0C704.3,824.9 706.1,824.1 707.7,824.0C709.2,823.9 711.3,824.3 712.3,825.3C713.2,826.3 713.7,828.2 713.6,829.9C713.5,831.5 712.7,833.6 711.6,835.1C710.5,836.7 708.2,838.0 707.0,839.1C705.8,840.2 704.7,840.8 704.4,841.7C704.0,842.6 704.9,843.9 705.0,844.3C706.3,845.2 711.1,848.6 712.9,849.6C714.8,850.6 715.6,850.1 716.2,850.2"/>
<path class="l"  d="M689.9,854.8L711.6,857.5L714.2,853.5"/>
<path class="l" d="M684,858 L713.6,885 L713.6,890.6 L687,867.5"/>
<path class="l"  d="M709.9,835.8L715.6,838.4L808.2,886.7L809.1,892.6C809.8,892.7 812.1,892.9 813.1,893.5C814.1,894.2 814.6,894.4 815.1,896.5C815.5,898.6 815.9,904.7 816.0,906.3C818.0,907.7 822.9,911.6 827.9,914.2C832.8,916.8 841.3,919.5 845.6,922.1C849.8,924.7 851.5,927.0 853.5,930.0C855.4,932.9 856.9,935.9 857.4,939.8C857.9,943.8 857.4,950.3 856.4,953.6C855.4,956.9 853.3,958.2 851.5,959.5C849.7,960.8 847.2,961.3 845.6,961.5C843.9,961.7 842.3,960.7 841.6,960.5L808.2,938.8L714.6,889.6"/>
<path class="l"  d="M715.6,853.2L808.2,901.8"/>
<path class="l"  d="M808.2,886.7L808.2,938.8"/>
<path class="l"  d="M808.2,909.3L816.0,916.2C820.6,918.2 838.0,924.7 843.6,928.0C849.2,931.3 848.2,932.9 849.5,935.9C850.8,938.8 851.8,942.5 851.5,945.7C851.2,949.0 848.2,953.9 847.5,955.6"/>
<path class="l"  d="M827.9,928.0C830.5,929.6 840.5,935.4 843.6,937.9C846.7,940.3 846.4,941.0 846.6,942.8C846.7,944.6 845.7,947.7 844.6,948.7C843.4,949.7 840.5,948.7 839.7,948.7C836.9,947.0 826.2,941.1 822.9,938.8C819.6,936.5 820.5,936.4 820.0,934.9C819.5,933.4 819.3,931.3 820.0,930.0C820.6,928.7 822.6,927.4 823.9,927.0C825.2,926.7 827.2,927.8 827.9,928.0Z"/>
<path class="l"  d="M825.9,931.0C828.8,932.6 840.5,938.3 843.6,940.8C846.7,943.3 844.4,944.9 844.6,945.7"/>
<path class="l"  d="M774.7,900.4L781.6,895.5L803.2,907.3L803.2,915.2L796.3,920.1C792.7,918.3 778.3,912.6 774.7,909.3C771.1,906.0 774.7,901.9 774.7,900.4Z"/>
<path class="l"  d="M774.7,900.4L796.3,912.3L803.2,907.3"/>
<path class="l"  d="M796.3,912.3L796.3,920.1"/>
<path class="l" style="stroke-width:2" d="M777.6,902.4L798.3,913.6"/>
<path class="l" style="stroke-width:2" d="M780.2,898.5L801.3,909.9"/>
<path class="l"  d="M599.3,893.7C598.5,892.6 596.0,890.1 594.4,887.1C592.7,884.1 590.4,879.2 589.4,875.6C588.5,872.1 587.9,868.8 588.6,865.8C589.3,862.8 590.8,860.3 593.5,857.6C596.3,854.9 600.1,851.8 605.0,849.4C610.0,846.9 617.3,844.3 623.1,842.8C628.8,841.3 636.8,840.8 639.5,840.4"/>
<path class="l"  d="M646.0,840.4C649.2,840.6 659.3,840.8 665.6,841.7C672.0,842.6 681.0,845.0 684.0,845.6C684.6,845.8 686.3,845.6 687.3,846.3C688.3,847.0 689.5,848.2 689.9,849.6C690.4,851.0 689.9,854.0 689.9,854.8C688.9,855.2 685.4,856.1 684.0,856.8C682.6,857.5 681.7,857.9 681.4,858.8C681.1,859.6 681.2,860.7 682.1,862.1C682.9,863.4 685.2,865.2 686.7,866.7C688.1,868.1 690.0,869.4 690.6,870.6C691.1,871.8 690.6,873.1 689.9,873.9C689.3,874.6 687.2,875.0 686.7,875.2C683.2,874.6 672.4,872.8 665.6,871.9C658.9,871.0 652.2,870.2 646.0,869.9C639.7,869.7 631.2,870.5 628.2,870.6"/>
<path class="l"  d="M627.2,870.7C629.2,870.4 635.9,869.2 639.5,869.1C643.1,868.9 647.0,869.6 648.5,869.7"/>
<path class="l"  d="M596.8,857.6C597.1,857.3 597.6,856.1 598.5,856.0C599.3,855.8 600.9,856.2 601.8,856.8C602.6,857.3 603.1,858.8 603.4,859.2L603.4,892.1L600.1,893.7L596.8,857.6"/>
<path class="l"  d="M599.8,859.2L600.9,892.1"/>
<path class="l"  d="M621.4,847.7C621.9,847.3 622.9,845.3 623.9,845.3C624.9,845.3 626.6,847.3 627.2,847.7C627.2,851.6 627.9,865.0 627.2,870.7C626.5,876.5 624.9,878.9 623.1,882.2C621.3,885.5 618.7,888.5 616.5,890.4C614.3,892.3 611.9,893.3 610.0,893.7C608.0,894.1 605.9,893.0 605.0,892.9"/>
<path class="l"  d="M623.1,848.6L622.3,870.7L605.0,876.5L603.4,877.3"/>
<path class="l"  d="M625.1,849.4C625.0,853.1 625.5,866.1 624.7,871.5C624.0,877.0 622.3,879.3 620.6,882.2C619.0,885.1 615.8,887.7 614.9,888.8"/>
<path class="l"  d="M610.0,875.6C610.6,876.5 613.5,878.4 614.1,880.6C614.6,882.8 614.1,886.7 613.2,888.8C612.4,890.8 609.8,892.2 609.1,892.9"/>
<ellipse class="l" style="stroke-width:1.9" cx="448.0" cy="830.4" rx="9.35" ry="12.64" transform="rotate(-22 448.0 830.4)"/>
<ellipse class="l"  cx="447.3" cy="830.4" rx="6.73" ry="9.85" transform="rotate(-22 447.3 830.4)"/>
<path class="l"  d="M445.0,818.6C447.8,816.8 458.6,809.6 461.9,807.8C465.3,805.9 464.1,807.2 465.2,807.4C466.3,807.7 467.9,808.8 468.5,809.1L485.7,817.3"/>
<path class="l"  d="M450.9,818.9L466.0,809.7"/>
<circle cx="467.3" cy="817.6" r="1" class="k"/>
<path class="l"  d="M456.2,822.2C460.0,823.9 471.9,828.6 479.2,832.4C486.5,836.2 496.5,843.1 500.0,845.2"/>
<path class="l"  d="M481.1,822.2C481.1,821.9 480.2,821.4 480.8,820.6C481.4,819.7 484.2,817.8 484.9,817.3C487.0,818.1 494.7,821.1 497.2,822.2C499.7,823.3 499.5,823.7 500.0,824.0"/>
<path class="l" style="stroke-width:2" d="M481.1,822.2C483.3,823.2 490.8,826.2 493.9,828.0C497.1,829.7 499.0,832.1 500.0,832.9"/>
<path class="l"  d="M452.1,842.7C454.4,845.0 461.0,851.9 466.0,856.7C471.1,861.5 476.8,867.2 482.4,871.4C488.1,875.7 497.1,880.5 500.0,882.3"/>
<path class="l"  d="M500.0,823.9L508.2,828.9L565.6,869.1C573.9,875.1 606.0,898.6 614.9,905.2C623.8,911.8 618.6,907.5 619.0,908.5C619.4,909.4 618.6,910.7 617.3,910.9C616.1,911.2 612.6,910.2 611.6,910.1"/>
<path class="l" style="stroke-width:2" d="M500.0,833.0C505.5,836.8 521.9,848.3 532.8,856.0C543.8,863.6 554.7,871.3 565.6,878.9C576.6,886.6 591.4,896.8 598.5,901.9C605.6,907.0 605.6,907.8 608.3,909.3C611.1,910.8 613.8,910.7 614.9,910.9"/>
<path class="l"  d="M500.0,845.3C505.5,848.8 519.1,857.2 532.8,866.6C546.5,876.1 562.5,888.1 582.1,901.9C601.6,915.7 638.7,941.6 650.0,949.5"/>
<path class="l"  d="M500.0,881.9C505.5,885.8 519.1,895.9 532.8,905.5C546.5,915.1 569.5,930.6 582.1,939.6C594.6,948.7 603.9,956.6 608.3,960.0"/>
<path class="l"  d="M619.0,908.5L646.1,928.5"/>
<path class="l"  d="M618.9,908.8L646.3,929.6"/>
<path class="l"  d="M683.7,955.8L707.3,965.7C713.7,969.1 738.3,981.3 745.7,986.3C753.1,991.4 750.5,992.6 751.6,996.2C752.8,999.8 753.0,1004.4 752.6,1008.0C752.3,1011.6 751.5,1015.6 749.7,1017.9C747.9,1020.2 744.1,1021.3 741.8,1021.8C739.5,1022.3 736.9,1021.0 735.9,1020.8L706.3,1003.1L677.8,999.1"/>
<path class="l"  d="M650.0,948.5L674.8,965.1"/>
<path class="l"  d="M608.3,959.2C611.2,960.9 614.5,963.1 625.6,969.6C636.7,976.1 666.6,993.4 674.8,998.2"/>
<path class="l"  d="M674.8,964.7L674.8,999.1"/>
<path class="l"  d="M677.8,965.7L677.8,999.1"/>
<path class="l"  d="M674.8,964.7L682.7,963.7L707.3,965.7"/>
<path class="l"  d="M684.7,974.5L684.7,996.2"/>
<path class="l"  d="M705.4,976.5L706.3,996.2"/>
<ellipse class="l"  cx="707.3" cy="988.3" rx="2.95" ry="2.95" transform="rotate(0 707.3 988.3)"/>
<path class="l"  d="M726.0,990.3C728.3,992.1 737.4,998.3 739.8,1001.1C742.3,1003.9 741.1,1005.5 740.8,1007.0C740.5,1008.5 739.2,1009.6 737.9,1010.0C736.5,1010.3 733.8,1009.2 732.9,1009.0C730.5,1007.2 721.1,1000.6 718.2,998.2C715.2,995.7 715.5,995.5 715.2,994.2C714.9,992.9 715.4,991.3 716.2,990.3C717.0,989.2 718.5,987.9 720.1,987.9C721.8,987.9 725.1,989.9 726.0,990.3Z"/>
<path class="l"  d="M722.1,992.3C724.7,994.1 735.1,1000.6 737.9,1003.1C740.6,1005.5 738.7,1006.4 738.8,1007.0"/>
<path class="l"  d="M647.3,931.2L649.2,930.2L657.1,934.2L659.1,939.1L668.9,945.0L673.9,947.0L677.8,946.0L682.7,949.9L683.7,955.8L681.7,961.7C676.0,958.4 653.0,947.1 647.3,942.0C641.5,936.9 647.3,933.0 647.3,931.2Z"/>
<path class="l"  d="M657.1,935.1L658.1,943.0L669.9,949.9L672.9,947.0"/>
<ellipse class="l"  cx="651.6" cy="937.7" rx="1.77" ry="1.77" transform="rotate(0 651.6 937.7)"/>
<ellipse class="l"  cx="677.4" cy="952.5" rx="1.77" ry="1.77" transform="rotate(0 677.4 952.5)"/>
<path class="l"  d="M624.6,971.6C624.8,972.4 624.5,975.0 625.6,976.5C626.8,978.0 629.2,979.5 631.5,980.4C633.8,981.4 636.4,980.8 639.4,982.4C642.3,984.0 646.6,988.2 649.2,990.3C651.9,992.4 653.5,994.7 655.1,995.2C656.8,995.7 658.6,994.2 659.1,993.2C659.6,992.3 658.3,990.0 658.1,989.3"/>
<path class="l"  d="M629.5,978.5L651.2,992.3"/>
<ellipse class="l"  cx="629.1" cy="975.5" rx="1.38" ry="1.38" transform="rotate(0 629.1 975.5)"/>
<ellipse class="l"  cx="655.1" cy="991.3" rx="1.38" ry="1.38" transform="rotate(0 655.1 991.3)"/>
<path class="w"  d="M462.3,933.5 L598.9,1010.3 L598.9,1040.0 L464.4,964.2 L462.3,961.9Z"/>
<g transform="translate(465.5,962.3) skewY(29.3)" opacity="0.999"><text x="0" y="0" style="font-family:'Liberation Serif',serif;font-weight:bold" font-size="18.5" textLength="59" lengthAdjust="spacingAndGlyphs" fill="#000" stroke="#000" stroke-width="1.2">uni-trak</text><text x="0" y="0" style="font-family:'Liberation Serif',serif;font-weight:bold" font-size="18.5" textLength="59" lengthAdjust="spacingAndGlyphs" fill="none" stroke="#fff" stroke-width="0.2">uni-trak</text></g>
<path class="l"  d="M540.8,980.7 L546.7,983.8 L539.0,1003.4 L532.4,999.9 L538.1,985.5 L537.3,984.8Z"/>
<path class="l"  d="M548.2,990.8C548.6,990.1 549.9,987.4 550.8,986.8C551.8,986.2 553.4,987.2 553.9,987.3C556.1,988.5 564.5,992.9 567.0,994.7C569.6,996.4 568.8,997.2 569.2,997.8C568.8,999.2 567.8,1004.7 567.0,1006.5C566.2,1008.3 564.8,1008.3 564.4,1008.7L551.3,1003.9L549.5,1006.1L562.6,1013.5L561.8,1017.0L541.6,1005.6C542.1,1004.3 543.8,999.3 544.7,997.8C545.6,996.2 546.5,996.7 546.9,996.4L560.0,1002.1L561.3,998.6L553.9,994.7L552.1,996.0C551.5,995.5 548.9,993.8 548.2,992.9C547.5,992.1 548.2,991.1 548.2,990.8Z"/>
<path class="l"  d="M574.0,999.9L594.6,1011.3L593.3,1014.4L579.3,1006.9L576.6,1012.6C578.2,1013.5 584.2,1016.3 586.3,1017.9C588.4,1019.5 589.1,1020.5 589.3,1022.3C589.6,1024.0 588.4,1027.1 587.6,1028.4C586.8,1029.7 585.0,1029.9 584.5,1030.1L565.3,1018.8L566.6,1016.1L581.0,1024.0C581.3,1023.4 582.8,1021.4 582.8,1020.5C582.8,1019.6 581.3,1019.1 581.0,1018.8C579.1,1017.6 570.8,1014.9 569.6,1011.8C568.5,1008.6 573.3,1001.9 574.0,999.9Z"/>
</svg>
</body></html>
